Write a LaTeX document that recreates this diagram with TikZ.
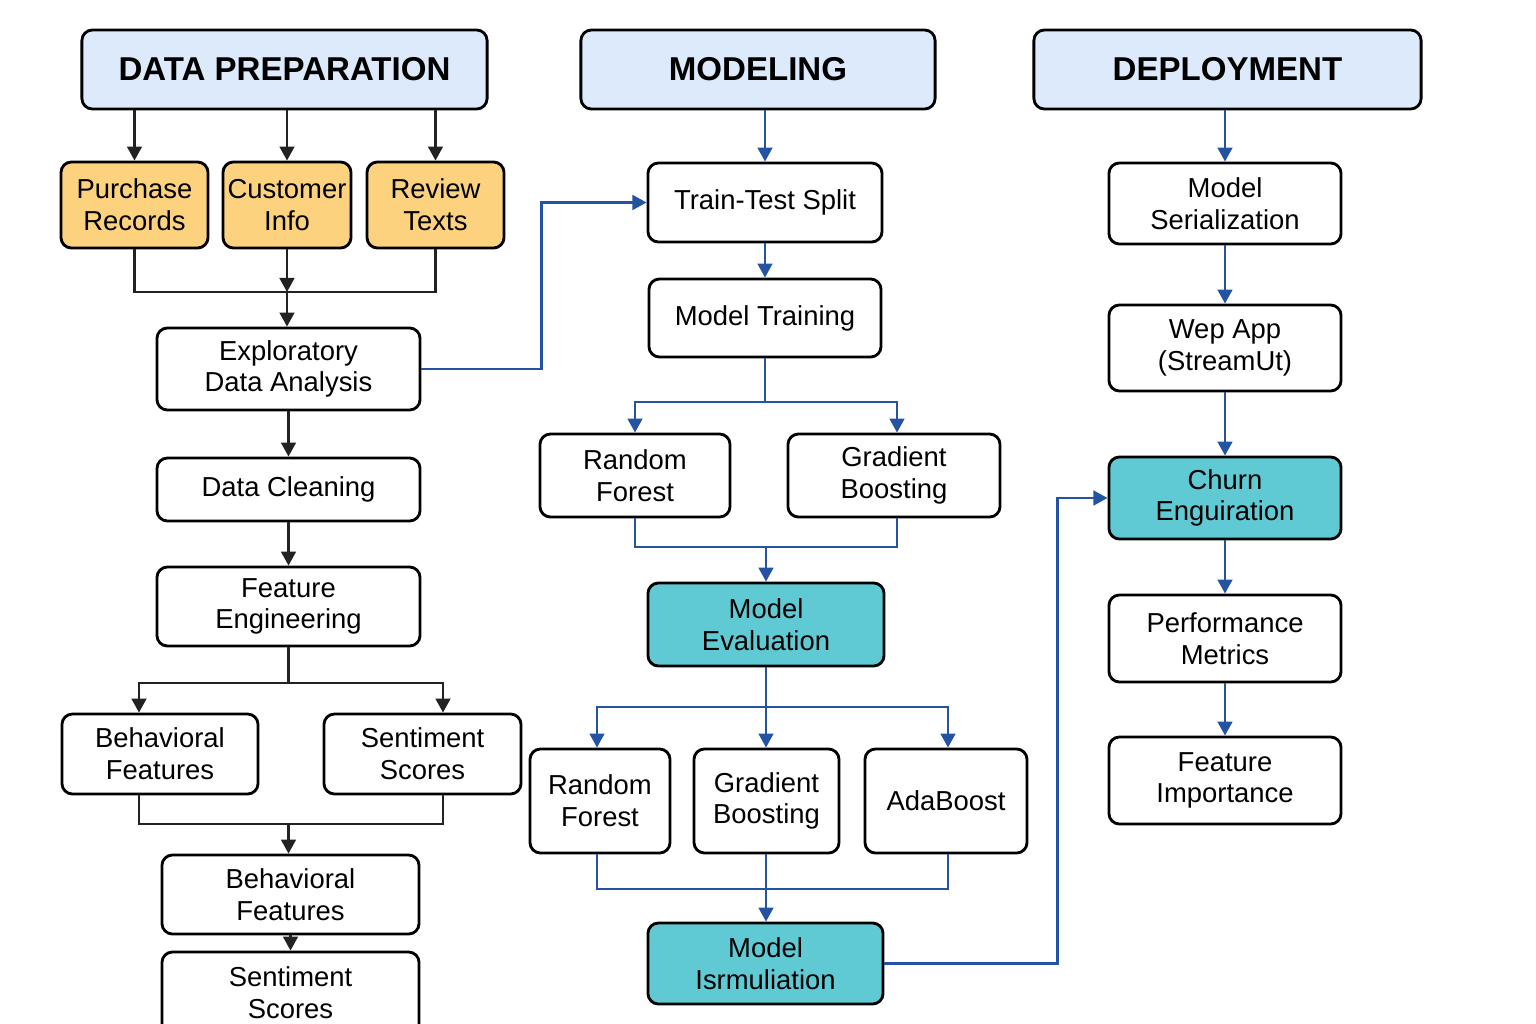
\documentclass[tikz,border=0pt]{standalone}
\usepackage{fontspec}
\setmainfont{Liberation Sans}
\usetikzlibrary{arrows.meta, positioning}

\definecolor{hdrblue}{HTML}{DCEAFB}
\definecolor{srcorange}{HTML}{FDD27F}
\definecolor{evalteal}{HTML}{5FCAD3}
\definecolor{flowblue}{HTML}{2453A3}
\definecolor{flowblack}{HTML}{222222}

\tikzset{
	box/.style={draw=black, line width=0.8pt, rounded corners=3pt, fill=white, align=center,
		inner sep=0pt, font=\fontsize{7.8}{9}\selectfont},
	header/.style={box, fill=hdrblue, font=\fontsize{9.4}{10}\selectfont\bfseries},
	source/.style={box, fill=srcorange},
	keybox/.style={box, fill=evalteal},
	blk/.style={draw=flowblack, line width=0.7pt},
	blu/.style={draw=flowblue, line width=0.7pt},
	tip/.style={-{Triangle[width=4.2pt,length=4pt]}}
}

\begin{document}
\begin{tikzpicture}[x=0.01cm, y=-0.01cm]
		
		\useasboundingbox (0,0) rectangle (1536,1024);
		
		%Headers
		\node[header, minimum width=4.05cm, minimum height=0.79cm] (hprep) at (284.5,69.5) {DATA PREPARATION};
		\node[header, minimum width=3.54cm, minimum height=0.79cm] (hmod) at (758,69.5) {MODELING};
		\node[header, minimum width=3.87cm, minimum height=0.79cm] (hdep) at (1227.5,69.5) {DEPLOYMENT};
		
		%Data sources
		\node[source, minimum width=1.47cm, minimum height=0.86cm] (pr) at (134.5,205) {Purchase\\Records};
		\node[source, minimum width=1.28cm, minimum height=0.86cm] (ci) at (287,205) {Customer\\Info};
		\node[source, minimum width=1.37cm, minimum height=0.86cm] (rt) at (435.5,205) {Review\\Texts};
		
		%Data preparation steps
		\node[box, minimum width=2.63cm, minimum height=0.82cm] (eda) at (288.5,369) {Exploratory\\Data Analysis};
		\node[box, minimum width=2.63cm, minimum height=0.63cm] (clean) at (288.5,489.5) {Data Cleaning};
		\node[box, minimum width=2.63cm, minimum height=0.79cm] (feat) at (288.5,606.5) {Feature\\Engineering};
		\node[box, minimum width=1.96cm, minimum height=0.80cm] (bf) at (160,754) {Behavioral\\Features};
		\node[box, minimum width=1.97cm, minimum height=0.80cm] (ss) at (422.5,754) {Sentiment\\Scores};
		\node[box, minimum width=2.57cm, minimum height=0.79cm] (bf2) at (290.5,894.5) {Behavioral\\Features};
		\node[box, minimum width=2.57cm, minimum height=0.82cm] (ss2) at (290.5,993) {Sentiment\\Scores};
		
		%Modeling steps
		\node[box, minimum width=2.34cm, minimum height=0.79cm] (tts) at (765,202.5) {Train-Test Split};
		\node[box, minimum width=2.32cm, minimum height=0.78cm] (mt) at (765,318) {Model Training};
		\node[box, minimum width=1.90cm, minimum height=0.83cm] (rf) at (635,475.5) {Random\\Forest};
		\node[box, minimum width=2.12cm, minimum height=0.83cm] (gb) at (894,475.5) {Gradient\\Boosting};
		\node[keybox, minimum width=2.36cm, minimum height=0.83cm] (meval) at (766,624.5) {Model\\Evaluation};
		\node[box, minimum width=1.40cm, minimum height=1.04cm] (rf2) at (600,801) {Random\\Forest};
		\node[box, minimum width=1.45cm, minimum height=1.04cm] (gb2) at (766.5,801) {Gradient\\Boosting};
		\node[box, minimum width=1.62cm, minimum height=1.04cm] (ada) at (946,801) {AdaBoost};
		\node[keybox, minimum width=2.35cm, minimum height=0.81cm] (msim) at (765.5,963.5) {Model\\Isrmuliation};
		
		%Deployment steps
		\node[box, minimum width=2.32cm, minimum height=0.81cm] (mser) at (1225,203.5) {Model\\Serialization};
		\node[box, minimum width=2.32cm, minimum height=0.86cm] (web) at (1225,348) {Wep App\\(StreamUt)};
		\node[keybox, minimum width=2.32cm, minimum height=0.82cm] (churn) at (1225,498) {Churn\\Enguiration};
		\node[box, minimum width=2.32cm, minimum height=0.87cm] (perf) at (1225,638.5) {Performance\\Metrics};
		\node[box, minimum width=2.32cm, minimum height=0.87cm] (fimp) at (1225,780.5) {Feature\\Importance};
		
		%Data preparation connectors
		\foreach \n in {pr,ci,rt}
			\draw[blk, tip] (hprep.south -| \n) -- (\n.north);
		\coordinate (jsrc) at (287,292);
		\draw[blk] (pr.south) |- (jsrc) -| (rt.south);
		\draw[blk, tip] (ci.south) -- (jsrc);
		\draw[blk, tip] (jsrc) -- (jsrc |- eda.north);
		\draw[blk, tip] (eda) -- (clean);
		\draw[blk, tip] (clean) -- (feat);
		\coordinate (jfeat) at (288.5,683);
		\draw[blk] (feat.south) -- (jfeat);
		\draw[blk, tip] (jfeat) -| ([xshift=-0.21cm]bf.north);
		\draw[blk, tip] (jfeat) -| ([xshift=0.205cm]ss.north);
		\coordinate (jbeh) at (288.5,824);
		\draw[blk] ([xshift=-0.21cm]bf.south) |- (jbeh) -| ([xshift=0.205cm]ss.south);
		\draw[blk, tip] (jbeh) -- (jbeh |- bf2.north);
		\draw[blk, tip] (bf2) -- (ss2);
		
		%Modeling connectors
		\draw[blu, tip] (hmod.south -| tts) -- (tts.north);
		\draw[blu, tip] (eda.east) -- ++(120,0) |- (tts.west);
		\draw[blu, tip] (tts) -- (mt);
		\coordinate (jmt) at (765,402);
		\draw[blu] (mt.south) -- (jmt);
		\draw[blu, tip] (jmt) -| (rf.north);
		\draw[blu, tip] (jmt) -| ([xshift=0.03cm]gb.north);
		\coordinate (jtree) at (766,547);
		\draw[blu] (rf.south) |- (jtree) -| ([xshift=0.03cm]gb.south);
		\draw[blu, tip] (jtree) -- (meval.north);
		\coordinate (jev) at (766,707);
		\draw[blu] (meval.south) -- (jev);
		\draw[blu, tip] (jev) -| ([xshift=-0.03cm]rf2.north);
		\draw[blu, tip] (jev) -- (jev |- gb2.north);
		\draw[blu, tip] (jev) -| ([xshift=0.02cm]ada.north);
		\coordinate (jens) at (766,889);
		\draw[blu] ([xshift=-0.03cm]rf2.south) |- (jens) -| ([xshift=0.02cm]ada.south);
		\draw[blu] (jens |- gb2.south) -- (jens);
		\draw[blu, tip] (jens) -- (jens |- msim.north);
		\draw[blu, tip] (msim.east) -- ++(173,0) |- (churn.west);
		
		%Deployment connectors
		\draw[blu, tip] (hdep.south -| mser) -- (mser.north);
		\foreach \a/\b in {mser/web, web/churn, churn/perf, perf/fimp}
			\draw[blu, tip] (\a) -- (\b);
		
\end{tikzpicture}
\end{document}
